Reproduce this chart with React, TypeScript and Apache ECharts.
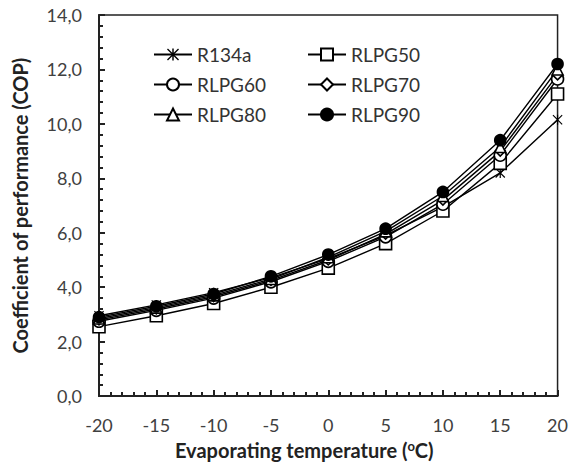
import React, { useEffect, useRef } from "react";
import * as echarts from "echarts";

const temps = [-20, -15, -10, -5, 0, 5, 10, 15, 20];
const r134a = [2.95, 3.35, 3.8, 4.35, 5.05, 5.9, 6.95, 8.2, 10.15];
const rlpg50 = [2.55, 2.95, 3.4, 4.0, 4.7, 5.6, 6.8, 8.55, 11.1];
const rlpg60 = [2.75, 3.15, 3.6, 4.2, 4.95, 5.85, 7.05, 8.85, 11.65];
const rlpg70 = [2.8, 3.2, 3.65, 4.25, 5.0, 5.95, 7.2, 9.0, 11.8];
const rlpg80 = [2.85, 3.25, 3.7, 4.3, 5.1, 6.05, 7.35, 9.15, 12.0];
const rlpg90 = [2.9, 3.3, 3.75, 4.4, 5.2, 6.15, 7.5, 9.4, 12.2];
const seriesNames = ["R134a", "RLPG50", "RLPG60", "RLPG70", "RLPG80", "RLPG90"];

const STAR =
  "path://M4.4 0 H5.6 V10 H4.4 Z M0 0.8 L0.8 0 L10 9.2 L9.2 10 Z M9.2 0 L10 0.8 L0.8 10 L0 9.2 Z";

const FONT = "Lato";

export default function App() {
  const ref = useRef<HTMLDivElement>(null);
  useEffect(() => {
    if (!ref.current) return;
    const chart = echarts.init(ref.current, undefined, { renderer: "svg" });
    const pair = (ys: number[]) => temps.map((t, i) => [t, ys[i]]);
    const defs: [string, number[], string, number, string][] = [
      [seriesNames[0], r134a, STAR, 10, "#000"],
      [seriesNames[1], rlpg50, "rect", 12, "#fff"],
      [seriesNames[2], rlpg60, "circle", 12, "#fff"],
      [seriesNames[3], rlpg70, "diamond", 10, "#fff"],
      [seriesNames[4], rlpg80, "triangle", 11, "#fff"],
      [seriesNames[5], rlpg90, "circle", 11, "#000"],
    ];
    const series = defs.map(([name, ys, sym, size, fill]) => ({
      name,
      type: "line",
      data: pair(ys),
      symbol: sym,
      symbolSize: size,
      showAllSymbol: true,
      lineStyle: { color: "#000", width: 1.4 },
      itemStyle: {
        color: fill,
        borderColor: "#000",
        borderWidth: sym === STAR ? 0 : 1.6,
      },
      emphasis: { disabled: true },
    }));
    const legendCommon = {
      orient: "vertical",
      top: 45,
      padding: 0,
      itemWidth: 38,
      itemHeight: 15,
      itemGap: 11,
      textStyle: { fontFamily: FONT, fontSize: 19, color: "#333" },
      selectedMode: false,
    };
    chart.setOption({
      animation: false,
      backgroundColor: "#fff",
      grid: {
        left: 99,
        right: 11,
        top: 15,
        bottom: 67,
        show: true,
        borderColor: "#222",
        borderWidth: 1.5,
      },
      legend: [
        { ...legendCommon, left: 153, data: [seriesNames[0], seriesNames[2], seriesNames[4]] },
        { ...legendCommon, left: 307, data: [seriesNames[1], seriesNames[3], seriesNames[5]] },
      ],
      xAxis: {
        type: "value",
        min: -20,
        max: 20,
        interval: 5,
        name: "Evaporating temperature ({s|o}C)",
        nameLocation: "middle",
        nameGap: 40,
        nameTextStyle: {
          fontFamily: FONT,
          fontSize: 20,
          fontWeight: "bold",
          color: "#222",
          padding: [0, 48, 0, 0],
          rich: {
            s: {
              fontFamily: FONT,
              fontSize: 13,
              fontWeight: "bold",
              color: "#222",
              padding: [0, 0, 9, 0],
            },
          },
        },
        axisLine: { show: true, onZero: false, lineStyle: { color: "#222", width: 2 } },
        axisTick: { show: true, inside: true, length: 6, lineStyle: { color: "#222", width: 2 } },
        minorTick: { show: true, splitNumber: 5, length: 4, lineStyle: { color: "#222", width: 2 } },
        splitLine: { show: false },
        axisLabel: { fontFamily: FONT, fontSize: 18, color: "#404040", margin: 20 },
      },
      yAxis: {
        type: "value",
        min: 0,
        max: 14,
        interval: 2,
        name: "Coefficient of performance (COP)",
        nameLocation: "middle",
        nameGap: 69,
        nameRotate: 90,
        nameTextStyle: { fontFamily: FONT, fontSize: 20, fontWeight: "bold", color: "#222" },
        axisLine: { show: true, onZero: false, lineStyle: { color: "#222", width: 2 } },
        axisTick: { show: true, inside: true, length: 6, lineStyle: { color: "#222", width: 2 } },
        minorTick: { show: true, splitNumber: 5, length: 4, lineStyle: { color: "#222", width: 2 } },
        splitLine: { show: false },
        axisLabel: {
          fontFamily: FONT,
          fontSize: 18,
          color: "#404040",
          margin: 17,
          formatter: (v: number) => v.toFixed(1).replace(".", ","),
        },
      },
      series,
    });
    return () => chart.dispose();
  }, []);
  return (
    <div
      ref={ref}
      style={{ position: "fixed", left: 0, top: 0, width: 571, height: 465, background: "#fff" }}
    />
  );
}
